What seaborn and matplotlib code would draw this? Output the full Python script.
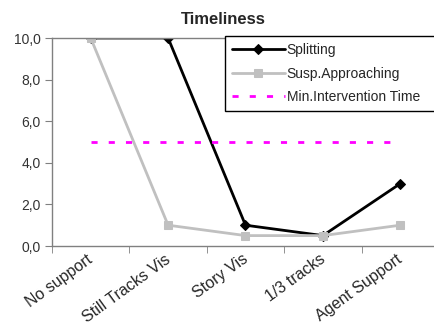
import seaborn as sns
import matplotlib.pyplot as plt
from matplotlib.ticker import FuncFormatter, FixedLocator
from matplotlib.transforms import ScaledTranslation

categories = ["No support", "Still Tracks Vis", "Story Vis", "1/3 tracks", "Agent Support"]
splitting = [10.0, 10.0, 1.0, 0.5, 3.0]
susp_approaching = [10.0, 1.0, 0.5, 0.5, 1.0]
min_intervention = [5.0, 5.0, 5.0, 5.0, 5.0]

sns.set_style("white")
plt.rcParams["font.family"] = ["Liberation Sans", "DejaVu Sans"]

fig = plt.figure(figsize=(4.34, 3.25), dpi=100)
ax = fig.add_axes([52 / 434, 79 / 325, 387 / 434, 208 / 325])

pos = list(range(len(categories)))

# series order like the original: Splitting first, grey on top of it
sns.lineplot(x=pos, y=splitting, ax=ax, color="black", linewidth=2,
             marker="D", markersize=5.5, markeredgecolor="black", label="Splitting")
sns.lineplot(x=pos, y=susp_approaching, ax=ax, color="#c0c0c0", linewidth=2,
             marker="s", markersize=5.5, markeredgecolor="#c0c0c0", label="Susp.Approaching")
sns.lineplot(x=pos, y=min_intervention, ax=ax, color="#ff00ff", linewidth=2,
             linestyle=(0, (2.2, 4)), label="Min.Intervention Time")

ax.set_xlim(-0.5, len(categories) - 0.5)
ax.set_ylim(0, 10)
ax.set_yticks([0, 2, 4, 6, 8, 10])
ax.yaxis.set_major_formatter(FuncFormatter(lambda v, p: f"{v:.1f}".replace(".", ",")))
ax.tick_params(axis="y", length=5, color="#808080", labelsize=10, labelcolor="#333333",
               left=True, pad=3)

ax.set_xticks(pos)
ax.set_xticklabels(categories, rotation=36, ha="right", rotation_mode="anchor", fontsize=11.5)
ax.xaxis.set_minor_locator(FixedLocator([i - 0.5 for i in range(len(categories) + 1)]))
ax.tick_params(axis="x", which="major", length=0, pad=4)
ax.tick_params(axis="x", which="minor", length=5, color="#808080", bottom=True)
shift = ScaledTranslation(-4 / 100, 0, fig.dpi_scale_trans)
for lbl in ax.get_xticklabels():
    lbl.set_transform(lbl.get_transform() + shift)

for side in ["left", "bottom", "top"]:
    ax.spines[side].set_color("#808080")
    ax.spines[side].set_linewidth(1)
ax.spines["right"].set_visible(False)

ax.set_xlabel("")
ax.set_ylabel("")
fig.text(223 / 434, 1 - 19 / 325, "Timeliness", ha="center", va="center",
         fontsize=12, fontweight="bold")

handles, labels = ax.get_legend_handles_labels()
leg = ax.legend(handles, labels,
                loc="upper left", bbox_to_anchor=((225 - 52) / 387, 1.01, (445 - 225) / 387, 0.0),
                mode="expand", fontsize=10, frameon=True, fancybox=False, framealpha=1,
                edgecolor="black", handlelength=3.8, borderpad=0.5,
                labelspacing=0.7, handletextpad=0.15, borderaxespad=0)
leg.get_frame().set_linewidth(1)

fig.savefig("out.png", dpi=100)
